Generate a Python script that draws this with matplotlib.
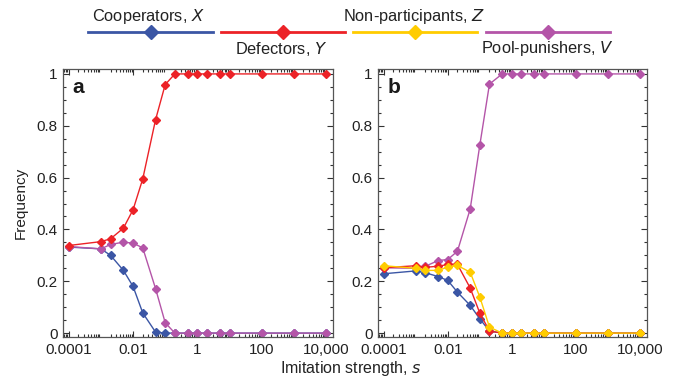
import matplotlib
matplotlib.use('Agg')
import matplotlib.pyplot as plt
from matplotlib.lines import Line2D
from matplotlib.ticker import FixedLocator, MultipleLocator, LogLocator, NullFormatter

plt.rcParams['font.family'] = ['Liberation Sans', 'DejaVu Sans']

# Imitation strength values
s = [1e-4, 1e-3, 2e-3, 5e-3, 1e-2, 2e-2, 5e-2, 0.1, 0.2, 0.5, 1, 2, 5, 10, 100, 1000, 10000]

# Panel a
a_coop = [0.332, 0.325, 0.300, 0.242, 0.180, 0.078, 0.004, 0.0, 0, 0, 0, 0, 0, 0, 0, 0, 0]
a_def = [0.338, 0.353, 0.364, 0.405, 0.476, 0.595, 0.823, 0.959, 1, 1, 1, 1, 1, 1, 1, 1, 1]
a_pun = [0.334, 0.325, 0.342, 0.351, 0.347, 0.329, 0.172, 0.040, 0, 0, 0, 0, 0, 0, 0, 0, 0]

# Panel b
b_coop = [0.229, 0.240, 0.233, 0.218, 0.203, 0.158, 0.107, 0.055, 0.008, 0, 0, 0, 0, 0, 0, 0, 0]
b_def = [0.252, 0.260, 0.254, 0.258, 0.265, 0.265, 0.174, 0.077, 0.008, 0, 0, 0, 0, 0, 0, 0, 0]
b_non = [0.260, 0.250, 0.242, 0.242, 0.255, 0.261, 0.235, 0.139, 0.023, 0, 0, 0, 0, 0, 0, 0, 0]
b_pun = [0.252, 0.250, 0.258, 0.280, 0.284, 0.316, 0.479, 0.726, 0.961, 1, 1, 1, 1, 1, 1, 1, 1]

xticks = [1e-4, 1e-2, 1, 1e2, 1e4]
xticklabels = ['0.0001', '0.01', '1', '100', '10,000']

BLUE = '#3b56a5'
RED = '#ec2227'
YELLOW = '#ffcc00'
MAGENTA = '#b455a8'
TEXT = '#222222'

fig = plt.figure(figsize=(6.78, 3.82), dpi=100)
ax_a = fig.add_axes([63 / 678, 1 - 337 / 382, 270 / 678, 268 / 382])
ax_b = fig.add_axes([378 / 678, 1 - 337 / 382, 269 / 678, 268 / 382])


def series(ax, y, color):
    ax.plot(s, y, color=color, lw=1.0, marker='D', ms=3.6, mec=color, mfc=color)


series(ax_a, a_coop, BLUE)
series(ax_a, a_pun, MAGENTA)
series(ax_a, a_def, RED)

series(ax_b, b_pun, MAGENTA)
series(ax_b, b_coop, BLUE)
series(ax_b, b_def, RED)
series(ax_b, b_non, YELLOW)

for ax, letter in [(ax_a, 'a'), (ax_b, 'b')]:
    ax.set_xscale('log')
    ax.set_xlim(10 ** -4.18, 10 ** 4.22)
    ax.set_ylim(-0.015, 1.019)
    ax.xaxis.set_major_locator(FixedLocator(xticks))
    ax.set_xticklabels(xticklabels)
    ax.xaxis.set_minor_locator(LogLocator(base=10, subs=range(2, 10), numticks=20))
    ax.xaxis.set_minor_formatter(NullFormatter())
    ax.yaxis.set_major_locator(MultipleLocator(0.2))
    ax.yaxis.set_minor_locator(MultipleLocator(0.05))
    ax.set_yticks([0, 0.2, 0.4, 0.6, 0.8, 1])
    ax.set_yticklabels(['0', '0.2', '0.4', '0.6', '0.8', '1'])
    ax.tick_params(which='both', direction='in', top=True, right=True, labelsize=11,
                   color='#333333', width=0.8, labelcolor=TEXT)
    ax.tick_params(which='major', length=4, pad=4)
    ax.tick_params(which='minor', length=2)
    for sp in ax.spines.values():
        sp.set_color('#555555')
        sp.set_linewidth(0.9)
    ax.text(0.035, 0.965, letter, transform=ax.transAxes, fontsize=15,
            fontweight='bold', va='top', ha='left', color='#1a1a1a')

ax_a.set_ylabel('Frequency', fontsize=11, labelpad=6, color=TEXT)
fig.text(351 / 678, 1 - 369 / 382, 'Imitation strength, $\\mathit{s}$', ha='center', va='center',
         fontsize=11.5, color=TEXT)

# Legend drawn on the figure
legend_items = [
    ('Cooperators, $\\mathit{X}$', BLUE, 88, 213, 148, 'above'),
    ('Defectors, $\\mathit{Y}$', RED, 221, 345, 281, 'below'),
    ('Non-participants, $\\mathit{Z}$', YELLOW, 353, 477, 414, 'above'),
    ('Pool-punishers, $\\mathit{V}$', MAGENTA, 486, 610, 547, 'below'),
]
ly = 1 - 32 / 382
for label, color, x0, x1, xt, pos in legend_items:
    fig.add_artist(Line2D([x0 / 678, x1 / 678], [ly, ly], color=color, lw=2,
                          transform=fig.transFigure))
    xm = (x0 + x1) / 2 / 678
    fig.add_artist(Line2D([xm], [ly], marker='D', ms=7, color=color,
                          transform=fig.transFigure))
    ty = 1 - (17 if pos == 'above' else 49) / 382
    fig.text(xt / 678, ty, label, ha='center', va='center', fontsize=11.8, color=TEXT)

plt.savefig('out.png', dpi=100)
